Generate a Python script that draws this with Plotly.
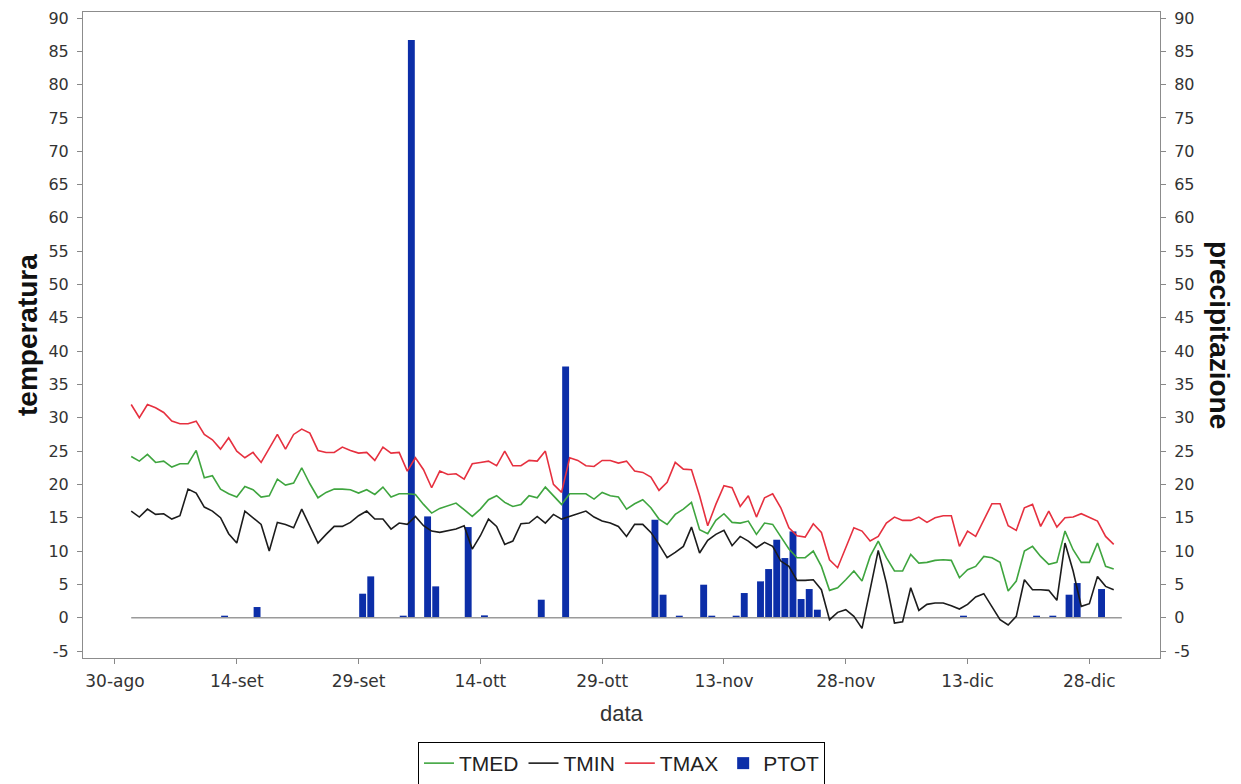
import pandas as pd
import plotly.graph_objects as go

# ---- data (daily, 1 Sep -> 31 Dec) ----
start_date = "2009-09-01"
n_days = 122

TMAX = [32.0,30.0,32.0,31.5,30.8,29.5,29.1,29.1,29.5,27.5,
        26.7,25.3,27.0,25.0,24.0,24.8,23.3,25.5,27.5,25.3,
        27.5,28.3,27.7,25.1,24.8,24.8,25.6,25.1,24.7,24.8,
        23.6,25.6,24.7,24.8,22.0,24.0,22.2,19.5,22.0,21.5,
        21.6,20.8,23.1,23.3,23.5,22.8,25.0,22.8,22.8,23.6,
        23.5,25.0,20.0,18.8,24.0,23.6,22.8,22.7,23.6,23.6,
        23.2,23.5,22.0,21.8,21.1,19.1,20.3,23.3,22.3,22.2,
        18.3,13.8,17.0,19.8,19.5,16.7,18.3,15.1,18.0,18.6,
        16.5,13.5,12.3,12.1,14.1,12.8,8.7,7.5,10.6,13.5,
        13.0,11.5,12.2,14.2,15.1,14.6,14.6,15.1,14.3,15.0,
        15.3,15.3,10.7,13.0,12.2,14.7,17.1,17.1,13.8,13.1,
        16.5,17.0,13.7,16.0,13.6,15.0,15.1,15.6,15.0,14.5,
        12.2,11.0]

TMED = [24.2,23.5,24.5,23.3,23.5,22.6,23.1,23.1,25.1,21.0,
        21.3,19.3,18.6,18.1,19.7,19.2,18.1,18.3,20.8,19.9,
        20.2,22.5,20.1,18.0,18.8,19.3,19.3,19.2,18.7,19.2,
        18.5,19.6,18.1,18.6,18.6,18.5,17.0,15.7,16.4,16.8,
        17.2,16.2,15.2,16.3,17.7,18.3,17.3,16.7,17.0,18.3,
        18.0,19.6,18.3,17.0,18.6,18.6,18.6,17.8,18.8,18.3,
        18.1,16.3,17.1,17.7,16.5,14.8,14.0,15.5,16.3,17.3,
        13.2,12.6,14.6,15.6,14.3,14.2,14.5,12.5,14.2,14.0,
        12.2,10.3,9.0,9.0,10.0,7.7,4.1,4.5,5.7,7.0,
        5.5,9.2,11.5,9.0,7.0,7.0,9.5,8.2,8.3,8.6,
        8.7,8.6,6.0,7.2,7.7,9.2,9.0,8.3,4.0,5.5,
        10.0,10.7,9.2,8.0,8.3,13.0,10.2,8.3,8.3,11.2,
        7.7,7.3]

TMIN = [16.0,15.1,16.3,15.5,15.6,14.8,15.3,19.3,18.7,16.6,
        16.0,15.0,12.6,11.2,16.0,15.0,14.0,10.0,14.3,14.0,
        13.5,16.3,13.7,11.2,12.5,13.7,13.7,14.3,15.3,16.0,
        14.8,14.8,13.3,14.2,14.0,15.2,13.8,13.0,12.8,13.0,
        13.3,13.8,10.3,12.3,14.8,13.7,11.0,11.5,14.1,14.2,
        15.2,14.2,15.5,14.8,15.2,15.5,16.0,15.1,14.5,14.2,
        13.7,12.2,14.0,14.0,12.8,11.0,9.0,9.8,10.7,13.6,
        9.7,11.6,12.5,13.1,10.8,12.2,11.5,10.5,11.3,10.7,
        8.5,7.7,5.6,5.6,5.7,4.2,-0.3,0.8,1.2,0.2,
        -1.6,4.2,10.1,5.2,-0.8,-0.6,4.5,1.1,2.0,2.2,
        2.2,1.8,1.3,2.0,3.1,3.6,1.7,-0.3,-1.1,0.2,
        5.7,4.2,4.2,4.1,2.6,11.2,7.0,1.7,2.1,6.2,
        4.7,4.2]

PTOT = [0,0,0,0,0,0,0,0,0,0,
        0,0.3,0,0,0,1.6,0,0,0,0,
        0,0,0,0,0,0,0,0,3.6,6.2,
        0,0,0,0.3,86.7,0,15.2,4.7,0,0,
        0,13.6,0,0.35,0,0,0,0,0,0,
        2.7,0,0,37.7,0,0,0,0,0,0,
        0,0,0,0,14.7,3.45,0,0.3,0,0,
        4.95,0.3,0,0,0.3,3.7,0,5.45,7.3,11.7,
        8.95,12.95,2.8,4.3,1.2,0,0,0,0,0,
        0,0,0,0,0,0,0,0,0,0,
        0,0,0.3,0,0,0,0,0,0,0,
        0,0.3,0,0.3,0,3.45,5.2,0,0,4.3,
        0,0]

tick_start = "2009-08-30"
tick_labels = ["30-ago", "14-set", "29-set", "14-ott", "29-ott",
               "13-nov", "28-nov", "13-dic", "28-dic"]
y_ticks = list(range(-5, 91, 5))
y_tick_labels = [str(v) for v in y_ticks]

# ---- figure ----
dates = pd.date_range(start_date, periods=n_days, freq="D")
tick_dates = pd.date_range(tick_start, periods=len(tick_labels), freq="15D")
DAY_MS = 86400000

TICKFONT = "DejaVu Sans, Verdana, sans-serif"
FONT = "Liberation Sans, Arial, sans-serif"
GREEN = "#3fa53f"
BLACK = "#1c1c1c"
RED = "#e6303f"
BLUE = "#0c2ea8"

fig = go.Figure()

# baseline of the precipitation bars
fig.add_trace(go.Scatter(
    x=[dates[0], dates[-1] + pd.Timedelta(days=1)], y=[0, 0],
    mode="lines", line=dict(color="#9a9a9a", width=1.5),
    showlegend=False, hoverinfo="skip", yaxis="y"))

fig.add_trace(go.Bar(
    x=dates, y=PTOT, name="PTOT", yaxis="y",
    xperiod=DAY_MS, xperiodalignment="middle",
    width=0.85 * DAY_MS,
    marker=dict(color=BLUE, line=dict(width=0)),
    legendrank=4))

fig.add_trace(go.Scatter(x=dates, y=TMED, name="TMED", mode="lines",
                         line=dict(color=GREEN, width=1.6), yaxis="y2",
                         legendrank=1))
fig.add_trace(go.Scatter(x=dates, y=TMIN, name="TMIN", mode="lines",
                         line=dict(color=BLACK, width=1.6), yaxis="y2",
                         legendrank=2))
fig.add_trace(go.Scatter(x=dates, y=TMAX, name="TMAX", mode="lines",
                         line=dict(color=RED, width=1.6), yaxis="y2",
                         legendrank=3))

yr = [-6.05, 90.9]
x_range = [tick_dates[0] - pd.Timedelta(hours=94.5),
           tick_dates[-1] + pd.Timedelta(hours=8.7 * 24)]

axis_common = dict(
    range=yr, tickmode="array", tickvals=y_ticks, ticktext=y_tick_labels,
    ticks="outside", ticklen=5, tickcolor="#888888",
    ticklabelstandoff=5,
    tickfont=dict(family=TICKFONT, size=16, color="#333333"),
    showgrid=False, zeroline=False,
    showline=True, linecolor="#8c8c8c", linewidth=1,
)

# page body has an 8px margin -> figure is drawn 8px lower/right
fig.update_layout(
    width=1233, height=776,
    margin=dict(l=75, r=81, t=4, b=126, autoexpand=False),
    paper_bgcolor="white", plot_bgcolor="white",
    barmode="overlay",
    xaxis=dict(
        range=x_range, type="date",
        tickmode="array", tickvals=tick_dates, ticktext=tick_labels,
        ticks="outside", ticklen=5, tickcolor="#888888",
        ticklabelstandoff=3,
        tickfont=dict(family=TICKFONT, size=17, color="#333333"),
        showgrid=False, zeroline=False,
        showline=True, linecolor="#8c8c8c", linewidth=1, mirror=True,
    ),
    yaxis=dict(side="left", **axis_common),
    yaxis2=dict(side="right", overlaying="y", **axis_common),
    legend=dict(
        orientation="h", x=0.5, xanchor="center", y=-0.13, yanchor="top",
        bordercolor="#000000", borderwidth=1, bgcolor="white",
        font=dict(family=FONT, size=21, color="#222222"),
        itemwidth=30, tracegroupgap=0,
    ),
    annotations=[
        dict(text="<b>temperatura</b>", xref="paper", yref="paper",
             x=0, y=0.5, xshift=-56, textangle=-90, showarrow=False,
             xanchor="center", yanchor="middle",
             font=dict(family=FONT, size=28, color="#111111")),
        dict(text="<b>precipitazione</b>", xref="paper", yref="paper",
             x=1, y=0.5, xshift=60, textangle=90, showarrow=False,
             xanchor="center", yanchor="middle",
             font=dict(family=FONT, size=28, color="#111111")),
        dict(text="data", xref="paper", yref="paper",
             x=0.5, y=0, yshift=-55, showarrow=False,
             xanchor="center", yanchor="middle",
             font=dict(family=FONT, size=22, color="#333333")),
    ],
)

fig.write_html("out.html")
